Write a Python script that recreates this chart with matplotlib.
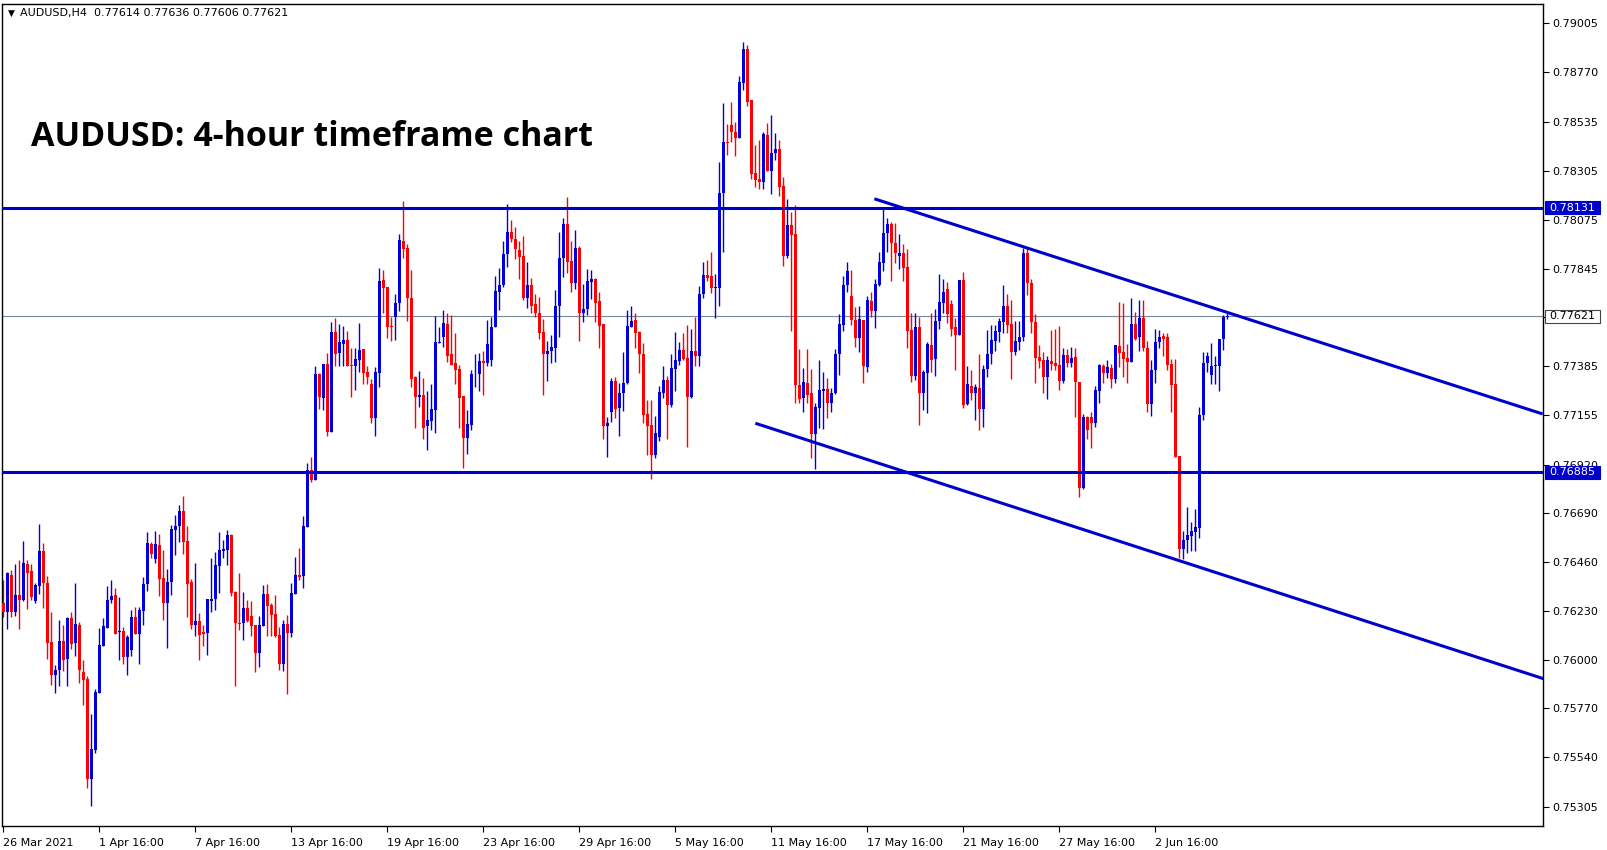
import numpy as np
import matplotlib
matplotlib.use("Agg")
import matplotlib.pyplot as plt
from matplotlib.patches import Rectangle

# AUDUSD H4 candles (oldest first)
opens = [
    0.76269, 0.76226, 0.76399, 0.76226, 0.76305, 0.76281, 0.76451, 0.76418, 0.76278, 0.76347,
    0.76512, 0.76361, 0.76083, 0.75929, 0.75951, 0.76088, 0.76004, 0.76196, 0.76080, 0.76163,
    0.75942, 0.75909, 0.75435, 0.75574, 0.75844, 0.76066, 0.76151, 0.76282, 0.76305, 0.76128,
    0.76135, 0.76010, 0.76046, 0.76203, 0.76123, 0.76231, 0.76357, 0.76546, 0.76474, 0.76541,
    0.76387, 0.76269, 0.76364, 0.76612, 0.76632, 0.76702, 0.76560, 0.76364, 0.76164, 0.76183,
    0.76131, 0.76124, 0.76276, 0.76284, 0.76443, 0.76514, 0.76517, 0.76588, 0.76319, 0.76174,
    0.76174, 0.76243, 0.76206, 0.76163, 0.76030, 0.76160, 0.76309, 0.76259, 0.76215, 0.76116,
    0.75979, 0.76168, 0.76124, 0.76309, 0.76399, 0.76394, 0.76624, 0.76895, 0.76848, 0.77346,
    0.77236, 0.77395, 0.77076, 0.77545, 0.77445, 0.77490, 0.77508, 0.77390, 0.77383, 0.77414,
    0.77464, 0.77357, 0.77301, 0.77139, 0.77354, 0.77791, 0.77757, 0.77574, 0.77618, 0.77681,
    0.77975, 0.77941, 0.77708, 0.77331, 0.77241, 0.77249, 0.77100, 0.77128, 0.77178, 0.77496,
    0.77524, 0.77584, 0.77442, 0.77398, 0.77371, 0.77244, 0.77044, 0.77107, 0.77346, 0.77348,
    0.77409, 0.77401, 0.77414, 0.77567, 0.77736, 0.77768, 0.77913, 0.78016, 0.77983, 0.77933,
    0.77904, 0.77708, 0.77768, 0.77678, 0.77637, 0.77546, 0.77441, 0.77458, 0.77472, 0.77669,
    0.77893, 0.78055, 0.77881, 0.77776, 0.77941, 0.77637, 0.77653, 0.77783, 0.77796, 0.77692,
    0.77584, 0.77104, 0.77170, 0.77315, 0.77186, 0.77260, 0.77304, 0.77571, 0.77603, 0.77546,
    0.77442, 0.77159, 0.77108, 0.76963, 0.77049, 0.77260, 0.77320, 0.77199, 0.77372, 0.77411,
    0.77461, 0.77422, 0.77241, 0.77457, 0.77430, 0.77724, 0.77815, 0.77810, 0.77752, 0.77752,
    0.78200, 0.78443, 0.78523, 0.78490, 0.78463, 0.78719, 0.78881, 0.78641, 0.78295, 0.78268,
    0.78251, 0.78476, 0.78307, 0.78389, 0.78410, 0.78235, 0.77905, 0.78051, 0.78009, 0.77296,
    0.77233, 0.77307, 0.77257, 0.77065, 0.77186, 0.77268, 0.77276, 0.77210, 0.77260, 0.77442,
    0.77579, 0.77768, 0.77716, 0.77603, 0.77516, 0.77603, 0.77379, 0.77692, 0.77647, 0.77768,
    0.77873, 0.78012, 0.78054, 0.77964, 0.77902, 0.77920, 0.77850, 0.77556, 0.77340, 0.77571,
    0.77260, 0.77354, 0.77485, 0.77418, 0.77599, 0.77684, 0.77747, 0.77678, 0.77568, 0.77532,
    0.77791, 0.77206, 0.77291, 0.77256, 0.77283, 0.77183, 0.77371, 0.77442, 0.77505, 0.77547,
    0.77595, 0.77668, 0.77582, 0.77453, 0.77500, 0.77521, 0.77920, 0.77778, 0.77594, 0.77426,
    0.77414, 0.77335, 0.77410, 0.77401, 0.77390, 0.77316, 0.77437, 0.77398, 0.77429, 0.77308,
    0.76808, 0.77146, 0.77146, 0.77115, 0.77269, 0.77385, 0.77354, 0.77374, 0.77324, 0.77480,
    0.77453, 0.77425, 0.77406, 0.77584, 0.77521, 0.77610, 0.77469, 0.77206, 0.77367, 0.77500,
    0.77527, 0.77524, 0.77395, 0.77301, 0.76961, 0.76521, 0.76562, 0.76584, 0.76604, 0.76620,
    0.77155, 0.77398, 0.77343, 0.77383, 0.77387, 0.77511, 0.77614,
]
highs = [
    0.76376, 0.76415, 0.76423, 0.76451, 0.76470, 0.76560, 0.76470, 0.76451, 0.76360, 0.76640,
    0.76552, 0.76394, 0.76225, 0.75975, 0.76187, 0.76163, 0.76203, 0.76225, 0.76361, 0.76179,
    0.75998, 0.75923, 0.75743, 0.75861, 0.76149, 0.76196, 0.76345, 0.76376, 0.76340, 0.76297,
    0.76156, 0.76117, 0.76235, 0.76250, 0.76250, 0.76392, 0.76604, 0.76557, 0.76607, 0.76593,
    0.76518, 0.76428, 0.76636, 0.76683, 0.76730, 0.76772, 0.76631, 0.76382, 0.76456, 0.76219,
    0.76164, 0.76286, 0.76481, 0.76509, 0.76604, 0.76564, 0.76611, 0.76591, 0.76325, 0.76407,
    0.76319, 0.76281, 0.76276, 0.76163, 0.76206, 0.76352, 0.76357, 0.76265, 0.76305, 0.76152,
    0.76187, 0.76210, 0.76360, 0.76486, 0.76528, 0.76677, 0.76929, 0.76958, 0.77383, 0.77351,
    0.77395, 0.77445, 0.77592, 0.77611, 0.77582, 0.77574, 0.77551, 0.77469, 0.77469, 0.77587,
    0.77464, 0.77383, 0.77323, 0.77379, 0.77846, 0.77839, 0.77760, 0.77618, 0.77725, 0.78008,
    0.78164, 0.77961, 0.77839, 0.77338, 0.77362, 0.77328, 0.77265, 0.77301, 0.77622, 0.77571,
    0.77650, 0.77634, 0.77626, 0.77540, 0.77390, 0.77244, 0.77178, 0.77367, 0.77442, 0.77445,
    0.77456, 0.77603, 0.77618, 0.77810, 0.77846, 0.77975, 0.78150, 0.78074, 0.78043, 0.77977,
    0.77999, 0.77878, 0.77801, 0.77725, 0.77713, 0.77607, 0.77503, 0.77532, 0.77744, 0.78015,
    0.78085, 0.78184, 0.77975, 0.78027, 0.77953, 0.77772, 0.77843, 0.77838, 0.77802, 0.77735,
    0.77584, 0.77143, 0.77327, 0.77331, 0.77304, 0.77449, 0.77650, 0.77669, 0.77634, 0.77551,
    0.77493, 0.77225, 0.77225, 0.77150, 0.77292, 0.77386, 0.77336, 0.77442, 0.77545, 0.77498,
    0.77543, 0.77579, 0.77560, 0.77614, 0.77763, 0.77875, 0.77886, 0.77925, 0.77820, 0.78347,
    0.78628, 0.78528, 0.78633, 0.78535, 0.78751, 0.78913, 0.78900, 0.78641, 0.78428, 0.78452,
    0.78487, 0.78531, 0.78570, 0.78484, 0.78452, 0.78279, 0.78172, 0.78114, 0.78145, 0.77466,
    0.77375, 0.77466, 0.77370, 0.77210, 0.77414, 0.77359, 0.77328, 0.77280, 0.77464, 0.77631,
    0.77810, 0.77878, 0.77839, 0.77662, 0.77669, 0.77603, 0.77716, 0.77736, 0.77795, 0.77925,
    0.78126, 0.78082, 0.78064, 0.78059, 0.78008, 0.77960, 0.77936, 0.77634, 0.77634, 0.77618,
    0.77367, 0.77500, 0.77634, 0.77653, 0.77819, 0.77794, 0.77780, 0.77697, 0.77610, 0.77791,
    0.77827, 0.77385, 0.77367, 0.77300, 0.77442, 0.77390, 0.77555, 0.77579, 0.77579, 0.77610,
    0.77768, 0.77725, 0.77697, 0.77599, 0.77599, 0.77941, 0.77941, 0.77796, 0.77631, 0.77484,
    0.77453, 0.77432, 0.77555, 0.77560, 0.77574, 0.77469, 0.77466, 0.77477, 0.77469, 0.77308,
    0.77159, 0.77149, 0.77170, 0.77291, 0.77393, 0.77393, 0.77414, 0.77395, 0.77484, 0.77686,
    0.77681, 0.77489, 0.77705, 0.77642, 0.77697, 0.77697, 0.77505, 0.77414, 0.77559, 0.77555,
    0.77540, 0.77540, 0.77417, 0.77417, 0.76961, 0.76609, 0.76719, 0.76651, 0.76709, 0.77191,
    0.77453, 0.77453, 0.77493, 0.77433, 0.77511, 0.77626, 0.77636,
]
lows = [
    0.76199, 0.76144, 0.76203, 0.76206, 0.76144, 0.76278, 0.76239, 0.76281, 0.76269, 0.76310,
    0.76245, 0.76004, 0.75882, 0.75844, 0.75877, 0.75948, 0.75877, 0.76052, 0.76019, 0.75891,
    0.75787, 0.75396, 0.75311, 0.75561, 0.75844, 0.76066, 0.76151, 0.76266, 0.76123, 0.75999,
    0.75980, 0.75929, 0.76017, 0.76123, 0.75980, 0.76164, 0.76326, 0.76480, 0.76455, 0.76301,
    0.76187, 0.76057, 0.76305, 0.76494, 0.76557, 0.76499, 0.76203, 0.76143, 0.76113, 0.75999,
    0.76062, 0.76022, 0.76226, 0.76234, 0.76316, 0.76478, 0.76446, 0.76302, 0.75875, 0.76140,
    0.76092, 0.76179, 0.76111, 0.75943, 0.75967, 0.76160, 0.76111, 0.76111, 0.76105, 0.75951,
    0.75948, 0.75838, 0.76108, 0.76309, 0.76376, 0.76339, 0.76624, 0.76840, 0.76848, 0.77181,
    0.77178, 0.77055, 0.77076, 0.77386, 0.77383, 0.77383, 0.77383, 0.77241, 0.77272, 0.77359,
    0.77299, 0.77299, 0.77118, 0.77055, 0.77288, 0.77634, 0.77519, 0.77505, 0.77508, 0.77647,
    0.77894, 0.77598, 0.77288, 0.77092, 0.77194, 0.77041, 0.76989, 0.77084, 0.77068, 0.77496,
    0.77477, 0.77406, 0.77390, 0.77301, 0.77095, 0.76903, 0.76969, 0.77081, 0.77288, 0.77268,
    0.77246, 0.77383, 0.77383, 0.77567, 0.77650, 0.77760, 0.77854, 0.77972, 0.77890, 0.77796,
    0.77697, 0.77658, 0.77637, 0.77614, 0.77513, 0.77249, 0.77316, 0.77401, 0.77406, 0.77521,
    0.77807, 0.77826, 0.77732, 0.77747, 0.77505, 0.77595, 0.77626, 0.77700, 0.77595, 0.77472,
    0.77040, 0.76958, 0.77123, 0.77139, 0.77056, 0.77175, 0.77301, 0.77567, 0.77472, 0.77351,
    0.77115, 0.76966, 0.76851, 0.76950, 0.77029, 0.77236, 0.77040, 0.77194, 0.77269, 0.77391,
    0.77414, 0.77005, 0.77236, 0.77383, 0.77383, 0.77705, 0.77784, 0.77729, 0.77611, 0.77666,
    0.77921, 0.78381, 0.78444, 0.78377, 0.78463, 0.78685, 0.78612, 0.78268, 0.78232, 0.78219,
    0.78219, 0.78307, 0.78197, 0.78355, 0.78188, 0.77855, 0.77897, 0.77548, 0.77210, 0.77210,
    0.77170, 0.77210, 0.76953, 0.76898, 0.77092, 0.77087, 0.77139, 0.77170, 0.77254, 0.77343,
    0.77548, 0.77736, 0.77579, 0.77477, 0.77449, 0.77304, 0.77359, 0.77615, 0.77563, 0.77763,
    0.77835, 0.77925, 0.77784, 0.77873, 0.77842, 0.77788, 0.77469, 0.77312, 0.77320, 0.77107,
    0.77178, 0.77162, 0.77359, 0.77340, 0.77560, 0.77634, 0.77587, 0.77527, 0.77367, 0.77532,
    0.77186, 0.77201, 0.77225, 0.77131, 0.77083, 0.77099, 0.77335, 0.77395, 0.77458, 0.77500,
    0.77540, 0.77540, 0.77323, 0.77437, 0.77461, 0.77505, 0.77720, 0.77539, 0.77307, 0.77374,
    0.77260, 0.77228, 0.77366, 0.77366, 0.77272, 0.77307, 0.77379, 0.77382, 0.77143, 0.76769,
    0.76803, 0.77039, 0.77000, 0.77099, 0.77212, 0.77307, 0.77330, 0.77280, 0.77304, 0.77379,
    0.77335, 0.77307, 0.77406, 0.77508, 0.77458, 0.77458, 0.77170, 0.77150, 0.77304, 0.77469,
    0.77430, 0.77367, 0.77166, 0.76958, 0.76478, 0.76474, 0.76502, 0.76514, 0.76514, 0.76573,
    0.77131, 0.77359, 0.77301, 0.77301, 0.77265, 0.77461, 0.77606,
]
closes = [
    0.76226, 0.76410, 0.76226, 0.76305, 0.76281, 0.76456, 0.76410, 0.76297, 0.76352, 0.76512,
    0.76360, 0.76080, 0.75929, 0.75951, 0.76088, 0.75998, 0.76196, 0.76075, 0.76168, 0.75951,
    0.75904, 0.75435, 0.75578, 0.75847, 0.76069, 0.76159, 0.76282, 0.76301, 0.76123, 0.76135,
    0.76010, 0.76109, 0.76203, 0.76123, 0.76235, 0.76357, 0.76552, 0.76500, 0.76546, 0.76382,
    0.76269, 0.76367, 0.76617, 0.76632, 0.76702, 0.76557, 0.76357, 0.76164, 0.76183, 0.76117,
    0.76123, 0.76286, 0.76284, 0.76446, 0.76517, 0.76523, 0.76588, 0.76316, 0.76174, 0.76170,
    0.76243, 0.76182, 0.76160, 0.76033, 0.76163, 0.76309, 0.76254, 0.76212, 0.76111, 0.75979,
    0.76168, 0.76124, 0.76313, 0.76399, 0.76388, 0.76630, 0.76895, 0.76848, 0.77348, 0.77241,
    0.77395, 0.77076, 0.77545, 0.77441, 0.77497, 0.77508, 0.77387, 0.77383, 0.77417, 0.77461,
    0.77354, 0.77335, 0.77139, 0.77356, 0.77787, 0.77751, 0.77567, 0.77567, 0.77681, 0.77980,
    0.77938, 0.77708, 0.77324, 0.77241, 0.77249, 0.77095, 0.77131, 0.77181, 0.77497, 0.77500,
    0.77587, 0.77430, 0.77390, 0.77367, 0.77236, 0.77044, 0.77110, 0.77348, 0.77348, 0.77408,
    0.77401, 0.77490, 0.77571, 0.77740, 0.77768, 0.77914, 0.78015, 0.77985, 0.77936, 0.77901,
    0.77708, 0.77768, 0.77670, 0.77634, 0.77543, 0.77441, 0.77456, 0.77477, 0.77669, 0.77893,
    0.78055, 0.77878, 0.77776, 0.77941, 0.77637, 0.77653, 0.77788, 0.77796, 0.77684, 0.77576,
    0.77104, 0.77115, 0.77315, 0.77183, 0.77257, 0.77307, 0.77575, 0.77598, 0.77543, 0.77441,
    0.77155, 0.77104, 0.76963, 0.77068, 0.77262, 0.77320, 0.77199, 0.77375, 0.77414, 0.77461,
    0.77419, 0.77241, 0.77457, 0.77430, 0.77726, 0.77815, 0.77799, 0.77752, 0.77760, 0.78200,
    0.78441, 0.78436, 0.78487, 0.78463, 0.78723, 0.78881, 0.78633, 0.78292, 0.78263, 0.78251,
    0.78480, 0.78307, 0.78389, 0.78410, 0.78232, 0.77905, 0.78051, 0.78001, 0.77296, 0.77230,
    0.77309, 0.77249, 0.77065, 0.77191, 0.77272, 0.77276, 0.77210, 0.77260, 0.77442, 0.77582,
    0.77768, 0.77831, 0.77600, 0.77519, 0.77606, 0.77383, 0.77697, 0.77647, 0.77773, 0.77876,
    0.78012, 0.78054, 0.77964, 0.77917, 0.77920, 0.77846, 0.77552, 0.77340, 0.77571, 0.77260,
    0.77359, 0.77489, 0.77414, 0.77599, 0.77689, 0.77736, 0.77629, 0.77560, 0.77532, 0.77791,
    0.77201, 0.77300, 0.77256, 0.77288, 0.77183, 0.77371, 0.77442, 0.77508, 0.77552, 0.77599,
    0.77668, 0.77579, 0.77453, 0.77503, 0.77524, 0.77920, 0.77775, 0.77594, 0.77425, 0.77410,
    0.77335, 0.77414, 0.77395, 0.77385, 0.77316, 0.77437, 0.77398, 0.77425, 0.77308, 0.76808,
    0.77146, 0.77083, 0.77118, 0.77272, 0.77390, 0.77354, 0.77379, 0.77324, 0.77484, 0.77448,
    0.77418, 0.77406, 0.77584, 0.77511, 0.77610, 0.77469, 0.77206, 0.77367, 0.77500, 0.77524,
    0.77511, 0.77390, 0.77296, 0.76958, 0.76521, 0.76565, 0.76588, 0.76609, 0.76625, 0.77155,
    0.77401, 0.77433, 0.77386, 0.77390, 0.77511, 0.77615, 0.77621,
]

date_labels = ["26 Mar 2021", "1 Apr 16:00", "7 Apr 16:00", "13 Apr 16:00", "19 Apr 16:00",
               "23 Apr 16:00", "29 Apr 16:00", "5 May 16:00", "11 May 16:00", "17 May 16:00",
               "21 May 16:00", "27 May 16:00", "2 Jun 16:00"]
date_bars = [0, 24, 48, 72, 96, 120, 144, 168, 192, 216, 240, 264, 288]

price_ticks = [0.79005, 0.78770, 0.78535, 0.78305, 0.78075, 0.77845, 0.77615, 0.77385, 0.77155,
               0.76920, 0.76690, 0.76460, 0.76230, 0.76000, 0.75770, 0.75540, 0.75305]

resistance = 0.78131
support = 0.76885
last_price = 0.77621

# drawn trendlines: (bar, price) anchors
upper_trend = [(217.75, 0.78174), (384.8, 0.77159)]
lower_trend = [(188.0, 0.77115), (385.0, 0.75910)]

BULL = "#0000DC"
BEAR = "#FF0000"
LINE = "#0000CD"

o = np.array(opens)
h = np.array(highs)
l = np.array(lows)
c = np.array(closes)
x = np.arange(len(o))
up = c >= o
cols = np.where(up, BULL, BEAR)

W, H = 1607, 850
fig = plt.figure(figsize=(W / 100, H / 100), dpi=100)
ax = fig.add_axes([2 / W, 24 / H, (1543 - 2) / W, (846 - 24) / H])

ax.vlines(x, l, h, colors=cols, linewidth=1.0, zorder=2)
body = np.maximum(np.abs(c - o), 0.00002)
ax.bar(x, body, bottom=np.minimum(o, c), width=0.72, color=cols, linewidth=0, zorder=3)

ax.axhline(last_price, color="#778899", lw=0.8, zorder=1)
ax.axhline(resistance, color=LINE, lw=2.2, zorder=4)
ax.axhline(support, color=LINE, lw=2.2, zorder=4)
for pts in (upper_trend, lower_trend):
    xs, ys = zip(*pts)
    ax.plot(xs, ys, color=LINE, lw=2.2, zorder=4, solid_capstyle="butt")

ax.set_xlim(-0.33, 384.9)
ax.set_ylim(0.75215, 0.79093)

ax.yaxis.tick_right()
ax.set_yticks(price_ticks)
# the last-price marker sits on top of this one, as on the terminal
ax.set_yticklabels(["" if abs(p - last_price) < 0.0001 else f"{p:.5f}" for p in price_ticks])
ax.set_xticks(date_bars)
ax.set_xticklabels(date_labels, ha="left")
ax.tick_params(axis="both", labelsize=8.0, length=4, width=0.8, color="black", pad=3)
ax.tick_params(axis="x", pad=5)
for sp in ax.spines.values():
    sp.set_linewidth(1.0)
    sp.set_color("black")

# price markers on the scale
tr = ax.get_yaxis_transform()
box_w = 55 / 1541
box_h = 13 / 2.1197 * 0.0001
for val, fc, tc, ec in [(resistance, LINE, "white", LINE), (support, LINE, "white", LINE),
                        (last_price, "white", "black", "#444444")]:
    ax.add_patch(Rectangle((1.0012, val - box_h / 2), box_w, box_h, transform=tr,
                           facecolor=fc, edgecolor=ec, lw=0.8, clip_on=False, zorder=9))
    ax.text(1.0012 + box_w / 2, val, f"{val:.5f}", transform=tr, ha="center", va="center",
            fontsize=8.0, color=tc, clip_on=False, zorder=10)

fig.text(8 / W, 1 - 13 / H, "\u25bc", fontsize=6.5, va="center", ha="left")
fig.text(20 / W, 1 - 13 / H, "AUDUSD,H4  0.77614 0.77636 0.77606 0.77621",
         fontsize=8.0, va="center", ha="left")
fig.text(31 / W, 1 - 137 / H, "AUDUSD: 4-hour timeframe chart", fontsize=24.5,
         fontweight="bold", family="Open Sans", va="center", ha="left")

fig.savefig("out.png", dpi=100)
